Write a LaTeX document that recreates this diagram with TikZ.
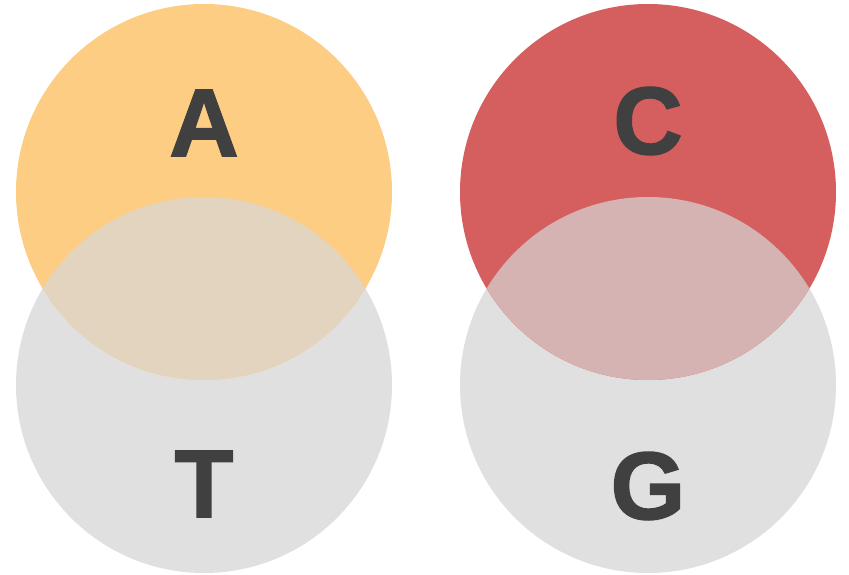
\documentclass[tikz,border=0pt]{standalone}
\usepackage{fontspec}
\setmainfont{Liberation Sans}[BoldFeatures={FakeBold=1.6}]
\usepackage{tikz}
\usepackage{xcolor}
\definecolor{agold}{HTML}{FDCD83}
\definecolor{agoldmix}{HTML}{E2D4BE}
\definecolor{cred}{HTML}{D45F5E}
\definecolor{credmix}{HTML}{D6B3B3}
\definecolor{basegray}{HTML}{E0E0E0}
\definecolor{lettergray}{HTML}{404040}

\begin{document}
\begin{tikzpicture}[x=1pt, y=-1pt,
    base/.style={text=lettergray, font=\fontsize{96}{96}\selectfont\bfseries, inner sep=0pt}]
    \useasboundingbox (0,0) rectangle (849,575);
    % lower circles
    \fill[basegray] (204,385) circle (188);
    \fill[basegray] (648,385) circle (188);
    % upper circles
    \fill[agold] (204,192) circle (188);
    \fill[cred] (648,192) circle (188);
    % overlaps
    \begin{scope}
        \clip (204,192) circle (188);
        \fill[agoldmix] (204,385) circle (188);
    \end{scope}
    \begin{scope}
        \clip (648,192) circle (188);
        \fill[credmix] (648,385) circle (188);
    \end{scope}
    % bases
    \node[base] (baseA) at (204,123) {A};
    \node[base] (baseT) at (204,484) {T};
    \node[base] (baseC) at (648,121) {C};
    \node[base] (baseG) at (648,486) {G};
\end{tikzpicture}
\end{document}
